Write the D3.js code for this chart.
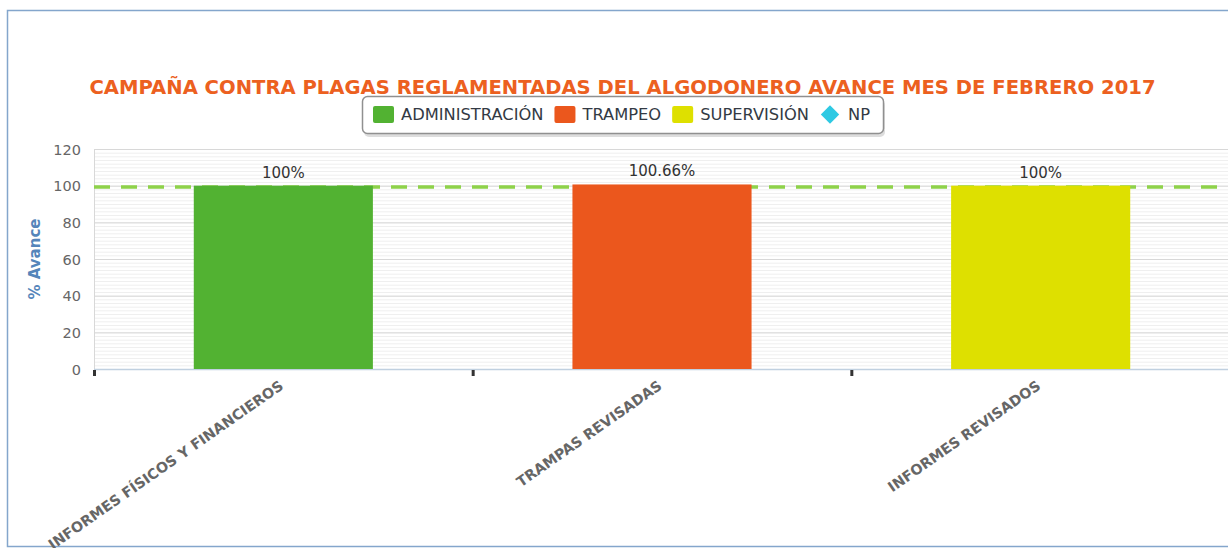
<!DOCTYPE html>
<html>
<head>
<meta charset="utf-8">
<script src="https://cdn.jsdelivr.net/npm/d3@7"></script>
<style>
  body { margin: 0; background: #fff; }
  svg { display: block; font-family: 'DejaVu Sans', Verdana, sans-serif; }
</style>
</head>
<body>
<svg id="main_chart" width="1228" height="548"></svg>
<script>
const categories = ['INFORMES FÍSICOS Y FINANCIEROS', 'TRAMPAS REVISADAS', 'INFORMES REVISADOS'];
const series_names = ['ADMINISTRACIÓN', 'TRAMPEO', 'SUPERVISIÓN', 'NP'];
const avance_values = [100, 100.66, 100];
const value_labels = ['100%', '100.66%', '100%'];
const y_ticks = [0, 20, 40, 60, 80, 100, 120];
const target_value = 100;

const colors = ['#52b232', '#eb571d', '#dee000', '#2ec9e3'];
const svg = d3.select('#main_chart');

// frame
svg.append('rect').attr('x', 7.5).attr('y', 10.5).attr('width', 1250).attr('height', 536)
  .attr('fill', 'none').attr('stroke', '#84a6cc').attr('stroke-width', 1.5);

const plot_left = 94, plot_top = 149, plot_bottom = 369, plot_right = 1230;
const xScale = d3.scaleBand().domain(categories).range([plot_left, plot_right]).padding(0);
const yScale = d3.scaleLinear().domain([0, 120]).range([plot_bottom, plot_top]);

// grid: minor every 2, major every 20
const grid = svg.append('g');
grid.selectAll('line.minor').data(d3.range(0, 121, 2)).enter().append('line')
  .attr('x1', plot_left).attr('x2', plot_right)
  .attr('y1', d => yScale(d) + 0.5).attr('y2', d => yScale(d) + 0.5)
  .attr('stroke', '#efefef').attr('stroke-width', 1);
grid.selectAll('line.major').data(y_ticks).enter().append('line')
  .attr('x1', plot_left).attr('x2', plot_right)
  .attr('y1', d => yScale(d) + 0.5).attr('y2', d => yScale(d) + 0.5)
  .attr('stroke', '#d8d8d8').attr('stroke-width', 1);
svg.append('line').attr('x1', plot_left + 0.5).attr('x2', plot_left + 0.5).attr('y1', plot_top).attr('y2', plot_bottom)
  .attr('stroke', '#d8d8d8');
svg.append('line').attr('x1', plot_left).attr('x2', plot_right).attr('y1', plot_bottom + 0.5).attr('y2', plot_bottom + 0.5)
  .attr('stroke', '#c0d0e0').attr('stroke-width', 1.5);

// target line (behind bars)
svg.append('line').attr('x1', plot_left).attr('x2', plot_right)
  .attr('y1', yScale(target_value) + 1.3).attr('y2', yScale(target_value) + 1.3)
  .attr('stroke', '#8ed24a').attr('stroke-width', 3.5).attr('stroke-dasharray', '16,11');

// bars
const bar_width = xScale.bandwidth() * 0.473;
svg.selectAll('rect.bar').data(avance_values).enter().append('rect').attr('class', 'bar')
  .attr('x', (d, i) => xScale(categories[i]) + (xScale.bandwidth() - bar_width) / 2)
  .attr('width', bar_width)
  .attr('y', d => yScale(d))
  .attr('height', d => plot_bottom - yScale(d))
  .attr('fill', (d, i) => colors[i]);

svg.selectAll('text.val').data(avance_values).enter().append('text').attr('class', 'val')
  .attr('x', (d, i) => xScale(categories[i]) + xScale.bandwidth() / 2)
  .attr('y', d => yScale(d) - 8)
  .attr('text-anchor', 'middle').attr('font-size', 15).attr('fill', '#333')
  .text((d, i) => value_labels[i]);

// x ticks
const boundaries = categories.map(c => xScale(c));
svg.selectAll('rect.tick').data(boundaries).enter().append('rect')
  .attr('x', d => d - 1).attr('y', plot_bottom + 1).attr('width', 3).attr('height', 6).attr('fill', '#333');

// x labels
svg.selectAll('text.xl').data(categories).enter().append('text')
  .attr('transform', d => 'translate(' + (xScale(d) + xScale.bandwidth() / 2 + 1) + ',' + (plot_bottom + 19) + ') rotate(-35)')
  .attr('text-anchor', 'end').attr('font-size', 14.3).attr('font-weight', 'bold').attr('fill', '#666')
  .text(d => d);

// y axis labels
svg.selectAll('text.yl').data(y_ticks).enter().append('text')
  .attr('x', 81).attr('y', d => yScale(d) + 5.5)
  .attr('text-anchor', 'end').attr('font-size', 14.5).attr('fill', '#666')
  .text(d => d);
svg.append('text').attr('transform', 'translate(40,' + ((plot_top + plot_bottom) / 2) + ') rotate(-90)')
  .attr('text-anchor', 'middle').attr('font-size', 15).attr('font-weight', 'bold').attr('fill', '#5585ba')
  .text('% Avance');

// title
svg.append('text').attr('x', 622.5).attr('y', 93.5).attr('text-anchor', 'middle')
  .attr('font-size', 19.6).attr('font-weight', 'bold').attr('fill', '#ec6020')
  .text('CAMPAÑA CONTRA PLAGAS REGLAMENTADAS DEL ALGODONERO AVANCE MES DE FEBRERO 2017');

// legend
const legend = svg.append('g');
legend.append('rect').attr('x', 363).attr('y', 98).attr('width', 521).attr('height', 37).attr('rx', 5)
  .attr('fill', '#bbb').attr('opacity', 0.5).attr('transform', 'translate(1,2)');
legend.append('rect').attr('x', 362.5).attr('y', 96.5).attr('width', 521).attr('height', 37).attr('rx', 5)
  .attr('fill', '#fff').attr('stroke', '#909090').attr('stroke-width', 1.5);
let lx = 373;
series_names.forEach((name, i) => {
  if (i < 3) {
    legend.append('rect').attr('x', lx).attr('y', 106).attr('width', 21).attr('height', 17).attr('rx', 2)
      .attr('fill', colors[i]);
  } else {
    legend.append('rect').attr('x', -6.5).attr('y', -6.5).attr('width', 13).attr('height', 13)
      .attr('transform', 'translate(' + (lx + 10) + ',114.5) rotate(45)').attr('fill', colors[i]);
  }
  const t = legend.append('text').attr('x', lx + 28).attr('y', 120).attr('font-size', 16.3).attr('fill', '#333a44').text(name);
  lx += 28 + t.node().getComputedTextLength() + 11;
});
</script>
</body>
</html>
